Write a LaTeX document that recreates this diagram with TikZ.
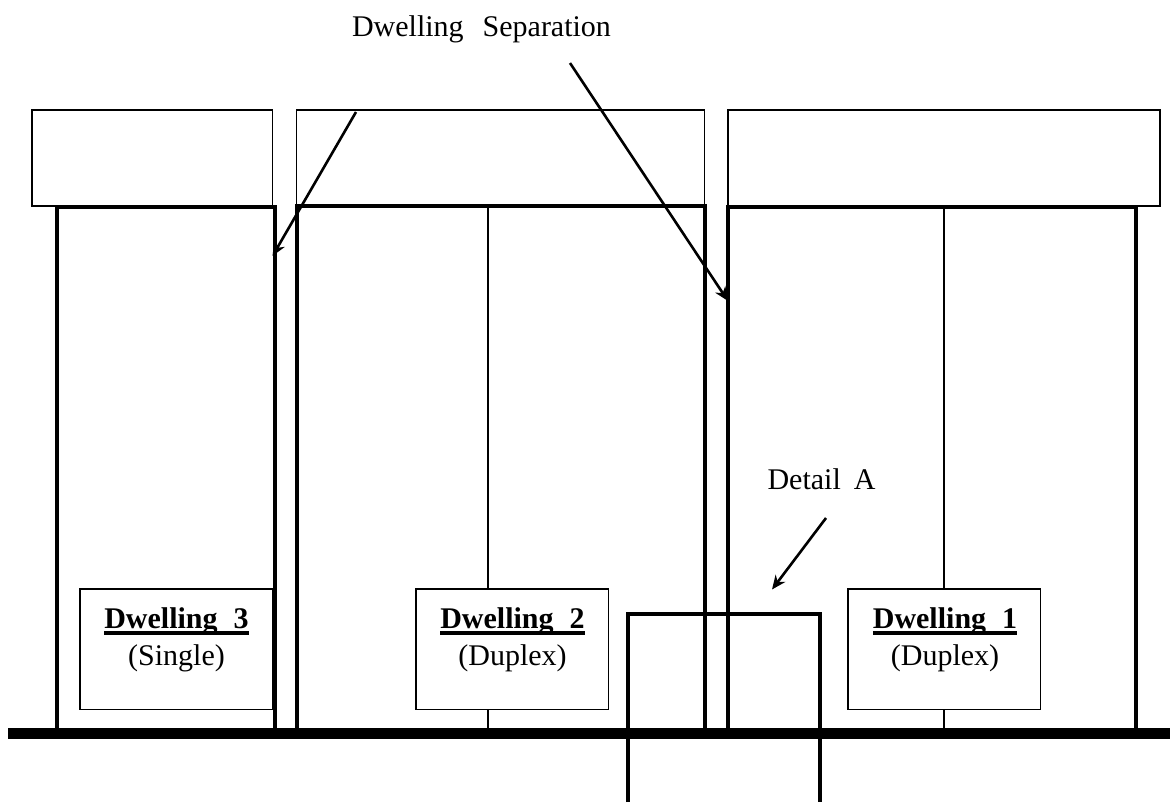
\documentclass[tikz,border=0pt]{standalone}
\usepackage{fontspec}
\setmainfont{Liberation Serif}
\usetikzlibrary{arrows.meta}
\newcommand{\heavyul}[1]{\setbox0\hbox{#1}\rlap{\rule[-7pt]{\wd0}{3.6pt}}\box0}
\tikzset{
  lbl/.style={font=\fontsize{30}{33}\selectfont,inner sep=0pt,anchor=base},
  thinbox/.style={draw,line width=1.6pt,fill=white},
  wall/.style={line width=4pt},
  midwall/.style={line width=1.6pt},
  ground/.style={line width=11.5pt},
  detail/.style={line width=4pt},
  pointer/.style={line width=2.6pt,-{Stealth[length=14pt,width=12pt]}}
}
\begin{document}
\begin{tikzpicture}[x=1pt,y=-1pt]
\useasboundingbox (0,0) rectangle (1170,803);
% roofs
\draw[thinbox] (32,110) rectangle (272.5,206);
\draw[thinbox] (296.5,110) rectangle (704.5,206);
\draw[thinbox] (728,110) rectangle (1160,206);
% mid walls
\draw[midwall] (488,206) -- (488,728);
\draw[midwall] (944,206) -- (944,728);
% dwelling walls
\draw[wall,line join=miter] (56.7,734) -- (56.7,206.5) -- (275,206.5) -- (275,734);
\draw[wall,line join=miter] (296.5,734) -- (296.5,206) -- (704.5,206) -- (704.5,734);
\draw[wall,line join=miter] (728,734) -- (728,206.5) -- (1136.3,206.5) -- (1136.3,734);
% label boxes
\draw[thinbox] (80,589) rectangle (272.5,709.5);
\draw[thinbox] (416,589) rectangle (608.5,709.5);
\draw[thinbox] (848,589) rectangle (1040.5,709.5);
\node[lbl] (d3) at (176.5,628) {\heavyul{\textbf{Dwelling\hspace{16pt}3}}};
\node[lbl] (s3) at (176.5,665) {(Single)};
\node[lbl] (d2) at (512.5,628) {\heavyul{\textbf{Dwelling\hspace{16pt}2}}};
\node[lbl] (s2) at (512.5,665) {(Duplex)};
\node[lbl] (d1) at (945,628) {\heavyul{\textbf{Dwelling\hspace{16pt}1}}};
\node[lbl] (s1) at (945,665) {(Duplex)};
% ground
\draw[ground] (8,733.5) -- (1170,733.5);
% detail
\draw[detail,line join=miter] (628,802) -- (628,613.5) -- (820,613.5) -- (820,802);
% labels
\node[lbl] (sep) at (481.5,36) {Dwelling\hspace{19pt}Separation};
\node[lbl] (da) at (821.5,489) {Detail\hspace{13pt}A};
% pointers
\coordinate (p1s) at (356,112);
\coordinate (p1e) at (272.5,256);
\coordinate (p2s) at (570,63);
\coordinate (p2e) at (728,301);
\coordinate (p3s) at (826,518);
\coordinate (p3e) at (772,589.5);
\draw[pointer] (p1s) -- (p1e);
\draw[pointer] (p2s) -- (p2e);
\draw[pointer] (p3s) -- (p3e);
\end{tikzpicture}
\end{document}
